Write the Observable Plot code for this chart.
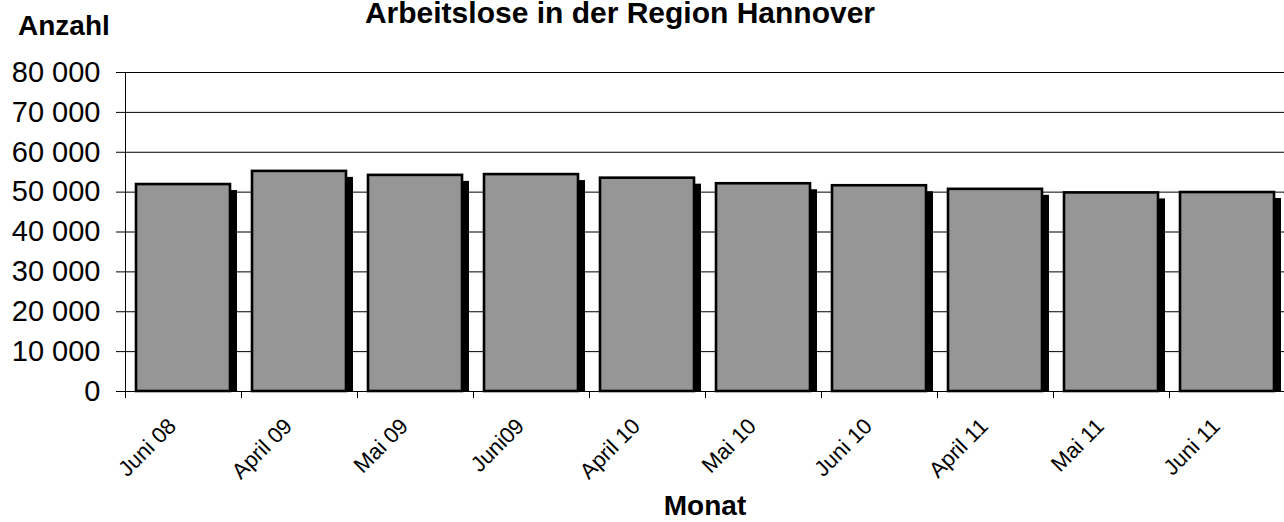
<!DOCTYPE html>
<html>
<head>
<meta charset="utf-8">
<script src="https://cdn.jsdelivr.net/npm/d3@7"></script>
<script src="https://cdn.jsdelivr.net/npm/@observablehq/plot@0.6"></script>
<style>
  html, body { margin: 0; padding: 0; background: #fff; }
  #chart { width: 1284px; height: 522px; overflow: hidden; }
</style>
</head>
<body>
<div id="chart"></div>
<script>
const months = ["Juni 08", "April 09", "Mai 09", "Juni09", "April 10", "Mai 10", "Juni 10", "April 11", "Mai 11", "Juni 11"];
const values = [51900, 55200, 54200, 54400, 53500, 52100, 51600, 50700, 49800, 49900];
const yTicks = [0, 10000, 20000, 30000, 40000, 50000, 60000, 70000, 80000];
const yTickLabels = ["0", "10 000", "20 000", "30 000", "40 000", "50 000", "60 000", "70 000", "80 000"];
const titleText = "Arbeitslose in der Region Hannover";
const yTitle = "Anzahl";
const xTitle = "Monat";

const data = months.map((m, i) => ({month: m, value: values[i]}));

const W = 1284, H = 522;
const mL = 125, mR = -1, mT = 72, mB = 131;
const step = (W - mL - mR) / months.length;

const plot = Plot.plot({
  width: W,
  height: H,
  marginLeft: mL,
  marginRight: mR,
  marginTop: mT,
  marginBottom: mB,
  style: {fontFamily: "'Liberation Sans', Arial, sans-serif", fontSize: "29px", background: "#fff", color: "#000"},
  x: {domain: months, padding: 0, axis: null},
  y: {
    domain: [0, 80000],
    ticks: yTicks,
    tickSize: 9,
    tickPadding: 16,
    tickFormat: d => yTickLabels[yTicks.indexOf(d)],
    label: null,
    grid: false
  },
  marks: [
    Plot.ruleY(yTicks, {stroke: "#000", strokeWidth: 1}),
    Plot.ruleX([months[0]], {dx: -step / 2, stroke: "#000", strokeWidth: 1}),
    Plot.ruleX(months, {x: d => d, y1: 0, y2: 0, insetBottom: -7, dx: -step / 2, stroke: "#000", strokeWidth: 1}),
    Plot.barY(data, {x: "month", y: "value", fill: "#000", insetLeft: 11, insetRight: 11, insetTop: 6, dx: 7}),
    Plot.barY(data, {x: "month", y: "value", fill: "#969696", stroke: "#000", strokeWidth: 2.6, insetLeft: 11, insetRight: 11}),
    Plot.text(months, {x: d => d, text: d => d, frameAnchor: "bottom", rotate: -45, textAnchor: "end", lineAnchor: "bottom", dx: -6, dy: 36, fontSize: 22, fill: "#000"})
  ]
});

const svg = d3.select(plot);
svg.append("text")
  .attr("x", 620).attr("y", 23)
  .attr("text-anchor", "middle")
  .attr("font-size", 30).attr("font-weight", "bold")
  .attr("fill", "#000")
  .text(titleText);
svg.append("text")
  .attr("x", 18).attr("y", 35)
  .attr("text-anchor", "start")
  .attr("font-size", 28).attr("font-weight", "bold")
  .attr("fill", "#000")
  .text(yTitle);
svg.append("text")
  .attr("x", 705).attr("y", 515)
  .attr("text-anchor", "middle")
  .attr("font-size", 28).attr("font-weight", "bold")
  .attr("fill", "#000")
  .text(xTitle);

document.getElementById("chart").appendChild(plot);
</script>
</body>
</html>
